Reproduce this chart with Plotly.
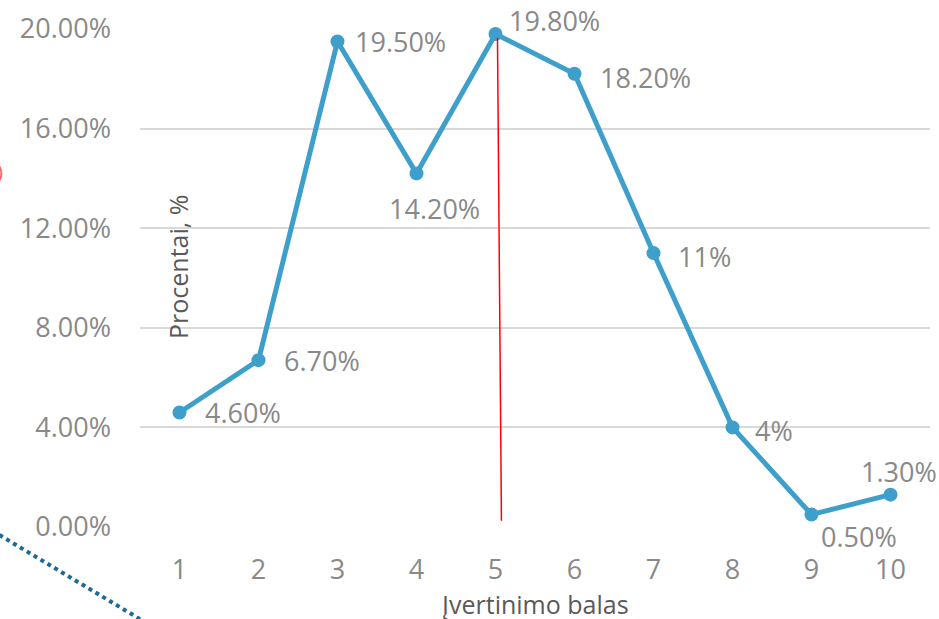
import plotly.graph_objects as go

categories = [1, 2, 3, 4, 5, 6, 7, 8, 9, 10]
values = [4.6, 6.7, 19.5, 14.2, 19.8, 18.2, 11, 4, 0.5, 1.3]
value_labels = ["4.60%", "6.70%", "19.50%", "14.20%", "19.80%", "18.20%", "11%", "4%", "0.50%", "1.30%"]
y_ticks = [0, 4, 8, 12, 16, 20]
y_tick_labels = ["0.00%", "4.00%", "8.00%", "12.00%", "16.00%", "20.00%"]
x_title = "Įvertinimo balas"
y_title = "Procentai, %"

# label placement styles (anchor, xshift, yshift)
label_style = [
    ("left", 23, 0), ("left", 23, 0), ("left", 15, 0), ("center", 18, -35),
    ("left", 11, 13), ("left", 23, -4), ("left", 22, -3), ("left", 20, -3),
    ("left", 7, -22), ("center", 8, 23),
]

FONT = "Open Sans"
TICK_GRAY = "#898989"
TITLE_GRAY = "#595959"
LINE_BLUE = "#3E9FCB"

fig = go.Figure()
fig.add_trace(go.Scatter(
    x=categories, y=values, mode="lines+markers",
    line=dict(color=LINE_BLUE, width=5),
    marker=dict(color=LINE_BLUE, size=14),
    cliponaxis=False, showlegend=False, hoverinfo="skip",
))

annotations = []
for xv, yv, txt, (anc, dx, dy) in zip(categories, values, value_labels, label_style):
    annotations.append(dict(
        x=xv, y=yv, xref="x", yref="y", text=txt, showarrow=False,
        xanchor=anc, yanchor="middle", xshift=dx, yshift=dy,
        font=dict(family=FONT, size=27, color=TICK_GRAY),
    ))

annotations.append(dict(
    x=0.048, y=0.522, xref="paper", yref="paper", text=y_title, showarrow=False,
    textangle=-90, xanchor="center", yanchor="middle",
    font=dict(family=FONT, size=25, color=TITLE_GRAY),
))
annotations.append(dict(
    x=0.5, y=-0.155, xref="paper", yref="paper", text=x_title, showarrow=False,
    xanchor="center", yanchor="middle",
    font=dict(family=FONT, size=25, color=TITLE_GRAY),
))

shapes = [
    # red vertical marker line at 5
    dict(type="line", xref="x", yref="y", x0=5.075, y0=0.25, x1=5.025, y1=19.65,
         line=dict(color="#FF0000", width=1.5)),
    # dotted line fragment (bottom-left)
    dict(type="line", xref="paper", yref="paper", x0=-0.178, y0=-0.016, x1=0.0, y1=-0.185,
         line=dict(color="#1F6A94", width=4, dash="dot")),
    # partial red circle at left edge
    dict(type="circle", xref="paper", yref="paper", x0=-0.218, y0=0.68, x1=-0.1755, y1=0.74,
         line=dict(color="#FF6666", width=2)),
]

fig.update_layout(
    width=939, height=619,
    margin=dict(l=140, r=9, t=29, b=92),
    paper_bgcolor="white", plot_bgcolor="white",
    annotations=annotations, shapes=shapes,
    xaxis=dict(
        range=[0.5, 10.5], tickvals=categories, ticktext=[str(c) for c in categories],
        showgrid=False, zeroline=False, showline=False, automargin=False,
        tickfont=dict(family=FONT, size=27, color=TICK_GRAY),
        ticks="", ticklabelstandoff=24,
    ),
    yaxis=dict(
        range=[0, 20], tickvals=y_ticks, ticktext=y_tick_labels,
        showgrid=True, gridcolor="#D9D9D9", gridwidth=1.5, zeroline=False, showline=False,
        automargin=False,
        tickfont=dict(family=FONT, size=27, color=TICK_GRAY),
        ticks="", ticklabelstandoff=28,
    ),
)
fig.write_html(
    "out.html",
    config={"displayModeBar": False},
    post_script="document.body.style.margin='0';document.body.style.overflow='hidden';",
)
